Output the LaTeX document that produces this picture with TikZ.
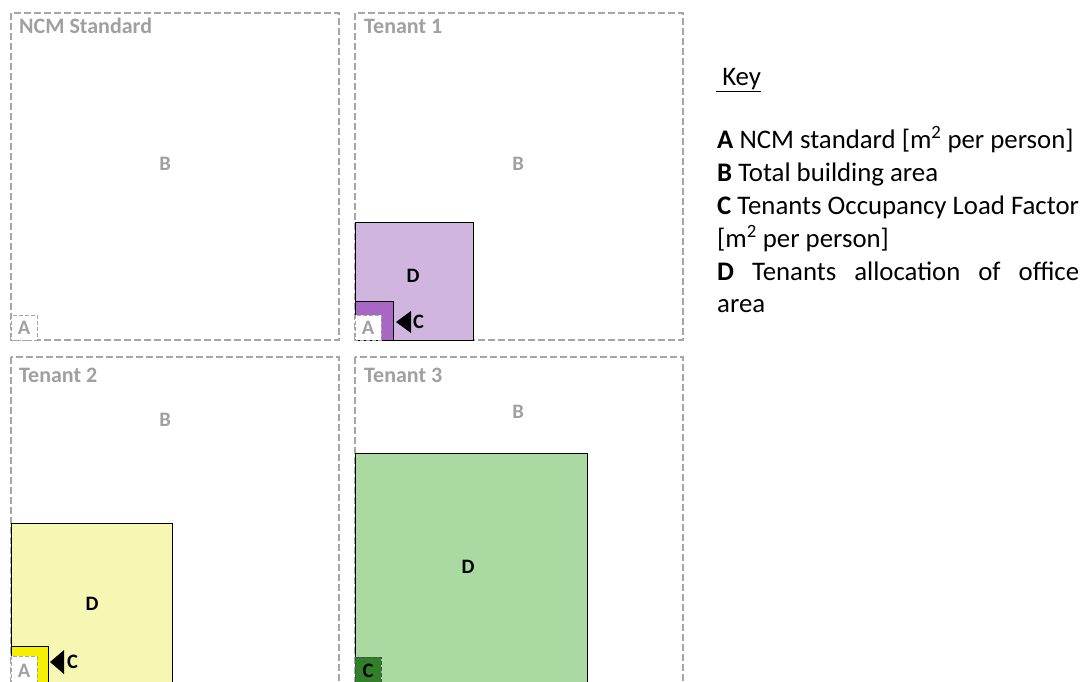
\documentclass[tikz,border=0pt]{standalone}
\usepackage{fontspec}
\setmainfont{Carlito}
\usetikzlibrary{positioning}
\definecolor{panelgray}{HTML}{A6A6A6}
\definecolor{titlegray}{HTML}{A0A0A0}
\definecolor{lilac}{HTML}{D0B6DE}
\definecolor{violet}{HTML}{A867C4}
\definecolor{paleyellow}{HTML}{F7F7B4}
\definecolor{brightyellow}{HTML}{F4F000}
\definecolor{palegreen}{HTML}{AAD9A1}
\definecolor{darkgreen}{HTML}{30802A}

\begin{document}
\begin{tikzpicture}[
    x=1pt, y=-1pt,
    panel/.style={draw=panelgray, line width=1.2pt, dash pattern=on 7pt off 3pt},
    title/.style={anchor=base west, inner sep=0pt, text=titlegray, font=\fontsize{22}{26}\selectfont\bfseries},
    blabel/.style={inner sep=0pt, text=titlegray, font=\fontsize{20.5}{24}\selectfont\bfseries},
    dlabel/.style={inner sep=0pt, font=\fontsize{20.5}{24}\selectfont\bfseries},
    alloc/.style={draw=black, line width=0.8pt},
    abox/.style={fill=white, draw=panelgray, line width=1pt, dash pattern=on 4pt off 2pt},
    marker/.style={fill=black},
    keyline/.style={anchor=base west, inner sep=0pt, font=\fontsize{26.8}{32}\selectfont}
]
\clip (0,0) rectangle (1082,681);
\fill[white] (0,0) rectangle (1082,681);

% panels
\draw[panel] (11,13) rectangle (339,340);
\draw[panel] (355,13) rectangle (683,340);
\draw[panel] (11,357) rectangle (339,720);
\draw[panel] (355,357) rectangle (683,720);

\node (ncm) [title] at (19,33) {NCM Standard};
\node (ten1) [title] at (364,33) {Tenant 1};
\node (ten2) [title] at (19,382) {Tenant 2};
\node (ten3) [title] at (364,382) {Tenant 3};

\node (b0) [blabel] at (165,164) {B};
\node (b1) [blabel] at (518,164) {B};
\node (b2) [blabel] at (165,420) {B};
\node (b3) [blabel] at (518,412) {B};

% NCM standard
\draw[abox] (11,315) rectangle (37,340);
\node (a0) [blabel] at (24,328) {A};

% Tenant 1
\draw[alloc, fill=lilac] (355,222) rectangle (473,340);
\draw[alloc, fill=violet] (355,301) rectangle (393,340);
\draw[abox] (355,315) rectangle (381,340);
\node (a1) [blabel] at (368,328) {A};
\node (d1) [dlabel] at (413,276) {D};
\fill[marker] (396,322) -- (411,311) -- (411,333) -- cycle;
\node (c1) [dlabel, anchor=west] at (413,322) {C};

% Tenant 2
\draw[alloc, fill=paleyellow] (11,523) rectangle (172,720);
\draw[alloc, fill=brightyellow] (11,646) rectangle (48,720);
\draw[abox] (11,656) rectangle (37,720);
\node (a2) [blabel] at (24,671) {A};
\node (d2) [dlabel] at (92,604) {D};
\fill[marker] (50,662) -- (64,650) -- (64,674) -- cycle;
\node (c2) [dlabel, anchor=west] at (67,662) {C};

% Tenant 3
\draw[alloc, fill=palegreen] (355,453) rectangle (587,720);
\draw[fill=darkgreen, draw=black!70, line width=1pt, dash pattern=on 4pt off 2pt] (355,657) rectangle (381,720);
\node (c3) [dlabel] at (368,671) {C};
\node (d3) [dlabel] at (468,567) {D};

% key
\node (key) [keyline] at (716,85) {\underline{\ Key}};
\node (keyA) [keyline] at (717,148) {\textbf{A} NCM standard [m\textsuperscript{2} per person]};
\node (keyB) [keyline] at (717,181) {\textbf{B} Total building area};
\node (keyC) [keyline] at (717,214) {\textbf{C} Tenants Occupancy Load Factor};
\node (keyC2) [keyline] at (717,247) {[m\textsuperscript{2} per person]};
\node (keyD) [keyline] at (717,280) {\makebox[362pt][s]{\textbf{D} Tenants allocation of office}};
\node (keyD2) [keyline] at (717,312) {area};
\end{tikzpicture}
\end{document}
